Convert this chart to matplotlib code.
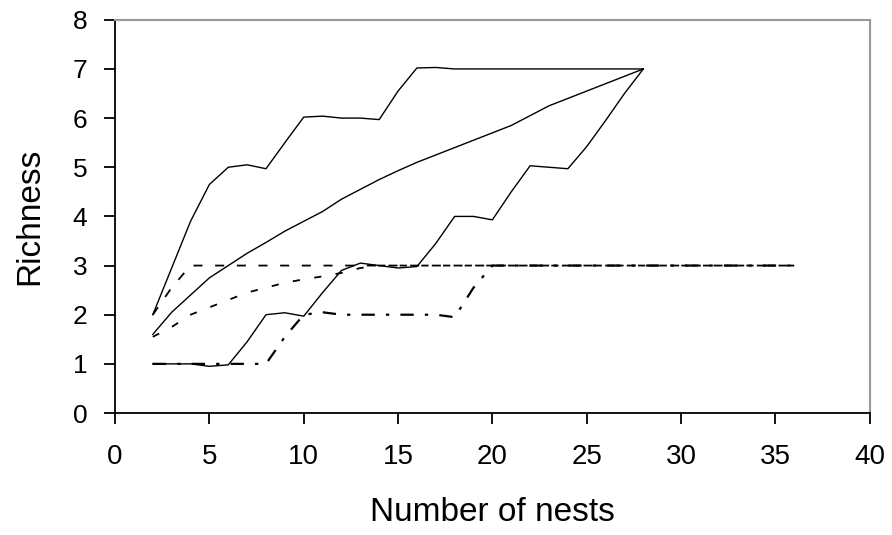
import matplotlib
matplotlib.use("Agg")
import matplotlib.pyplot as plt

plt.rcParams['font.family'] = ['Liberation Sans', 'DejaVu Sans']

nests = list(range(2, 29))
upper_solid = [2.0, 2.95, 3.9, 4.65, 5.0, 5.05, 4.97, 5.5, 6.02, 6.04, 6.0, 6.0, 5.97,
               6.55, 7.02, 7.03, 7.0, 7.0, 7.0, 7.0, 7.0, 7.0, 7.0, 7.0, 7.0, 7.0, 7.0]
mid_solid = [1.6, 2.05, 2.4, 2.75, 3.0, 3.25, 3.47, 3.7, 3.9, 4.1, 4.35, 4.55, 4.75, 4.93,
             5.1, 5.25, 5.4, 5.55, 5.7, 5.85, 6.05, 6.25, 6.4, 6.55, 6.7, 6.85, 7.0]
lower_solid = [1.0, 1.0, 1.0, 0.95, 0.98, 1.45, 2.0, 2.04, 1.97, 2.45, 2.9, 3.05, 3.0, 2.95,
               2.98, 3.45, 4.0, 4.0, 3.93, 4.5, 5.03, 5.0, 4.97, 5.42, 5.95, 6.5, 7.0]

nests_d = list(range(2, 37))
upper_dash = [2.0, 2.55, 3.0] + [3.0] * 32
mid_dash = [1.55, 1.75, 2.0, 2.15, 2.3, 2.45, 2.55, 2.65, 2.72, 2.78, 2.85, 2.95, 3.0] + [3.0] * 22
lower_dash = [1.0, 1.0, 1.0, 1.0, 1.0, 1.0, 1.0, 1.55, 2.0, 2.05, 2.0, 2.0, 2.0, 2.0, 2.0,
              2.0, 1.95, 2.55, 3.0] + [3.0] * 16

x_ticks = [0, 5, 10, 15, 20, 25, 30, 35, 40]
y_ticks = [0, 1, 2, 3, 4, 5, 6, 7, 8]

fig = plt.figure(figsize=(8.92, 5.35), dpi=100)
ax = fig.add_axes([0.129, 0.228, 0.846, 0.735])

lw = 1.0
ax.plot(nests, upper_solid, color='black', lw=lw)
ax.plot(nests, mid_solid, color='black', lw=lw)
ax.plot(nests, lower_solid, color='black', lw=lw)
ax.plot(nests_d, upper_dash, color='black', lw=1.3, dashes=(5, 7))
ax.plot(nests_d, mid_dash, color='black', lw=1.3, dashes=(4, 8))
ax.plot(nests_d, lower_dash, color='black', lw=1.6, dashes=(6, 5, 1.5, 5))

ax.set_xlim(0, 40)
ax.set_ylim(0, 8)
ax.set_xticks(x_ticks)
ax.set_yticks(y_ticks)

for s in ['left', 'bottom']:
    ax.spines[s].set_color('black')
    ax.spines[s].set_linewidth(1.3)
for s in ['top', 'right']:
    ax.spines[s].set_color('#999999')
    ax.spines[s].set_linewidth(1.5)

ax.tick_params(axis='both', direction='out', length=8, width=1.3, colors='black')
ax.tick_params(axis='y', pad=12, labelsize=19)
ax.tick_params(axis='x', pad=14, labelsize=20)
ax.set_xlabel('Number of nests', fontsize=24, labelpad=20)
ax.set_ylabel('Richness', fontsize=24, labelpad=20)

fig.savefig('out.png', dpi=100)
